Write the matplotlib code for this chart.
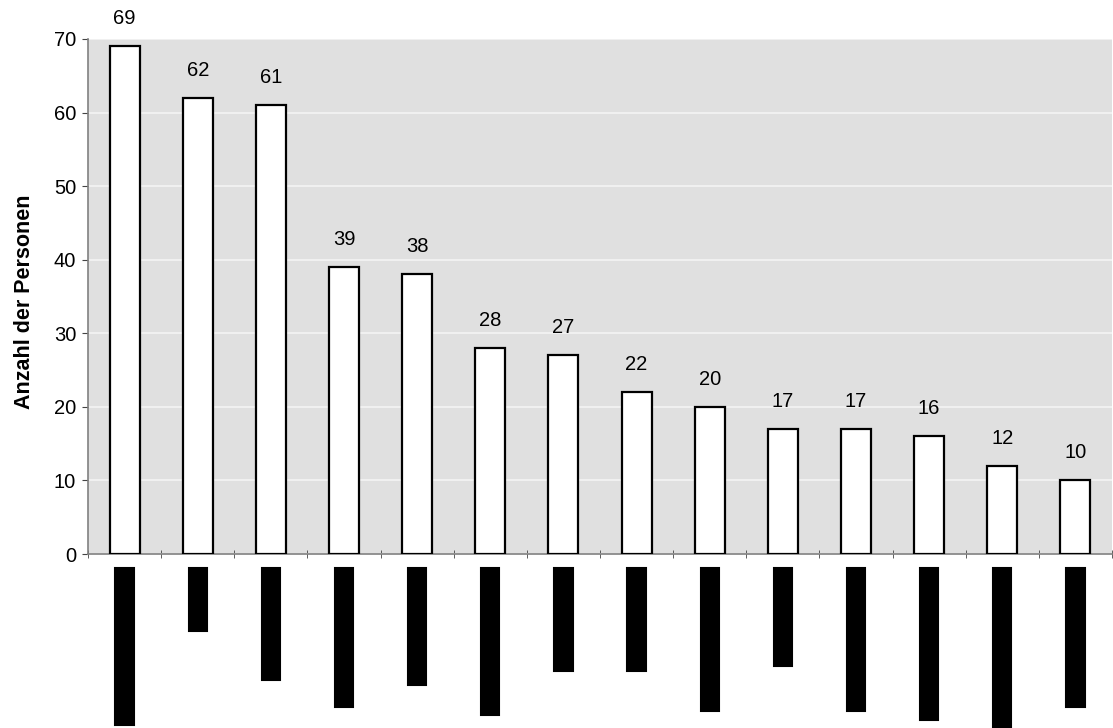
import numpy as np
import matplotlib
matplotlib.use('Agg')
import matplotlib.pyplot as plt

# data (category names are blacked out in the original, kept as filler text)
values = [69, 62, 61, 39, 38, 28, 27, 22, 20, 17, 17, 16, 12, 10]
label_full = [11, 4, 8, 10, 8, 11, 7, 7, 10, 7, 10, 11, 12, 10]
label_thin = [2, 2, 1, 1, 2, 0, 2, 2, 2, 1, 2, 1, 1, 1]
labels = ['\u2588' * a + 'l' * b for a, b in zip(label_full, label_thin)]
y_ticks = [0, 10, 20, 30, 40, 50, 60, 70]

plt.rcParams['font.family'] = ['Liberation Sans', 'DejaVu Sans']

fig = plt.figure(figsize=(11.13, 7.28), dpi=100)
ax = fig.add_axes([88 / 1113, 1 - 554 / 728, (1112 - 88) / 1113, (554 - 39) / 728])
ax.set_facecolor('#E0E0E0')

x = np.arange(len(values))
ax.bar(x, values, width=0.41, color='white', edgecolor='black', linewidth=1.6, zorder=3)

for xi, v in zip(x, values):
    ax.annotate(str(v), (xi, v), xytext=(0, 13), textcoords='offset points',
                ha='center', va='bottom', fontsize=14.5)

ax.set_xlim(-0.5, len(values) - 0.5)
ax.set_ylim(0, 70)
ax.set_yticks(y_ticks)
ax.yaxis.grid(True, color='#F4F4F4', linewidth=1.2, zorder=0)
ax.set_axisbelow(True)

ax.set_xticks(x)
ax.set_xticklabels(labels, rotation=90, fontsize=12.5, family='DejaVu Sans', va='top',
                   color='black')
for t in ax.get_xticklabels():
    t.set_bbox(dict(facecolor='black', edgecolor='black', linewidth=1.5, pad=0))
ax.set_xticks(np.arange(len(values) + 1) - 0.5, minor=True)
ax.tick_params(axis='x', which='major', length=0, pad=10)
ax.tick_params(axis='x', which='minor', direction='inout', length=6, color='#444444')
ax.tick_params(axis='y', length=4.5, color='#444444', labelsize=14.5, pad=4)

for s in ['top', 'right']:
    ax.spines[s].set_visible(False)
ax.spines['left'].set_color('#808080')
ax.spines['bottom'].set_color('#808080')
ax.spines['left'].set_linewidth(1.2)
ax.spines['bottom'].set_linewidth(1.2)

ax.set_ylabel('Anzahl der Personen', fontsize=15.5, fontweight='bold')
ax.yaxis.set_label_coords(-0.052, 0.49)

fig.savefig('out.png', dpi=100)
